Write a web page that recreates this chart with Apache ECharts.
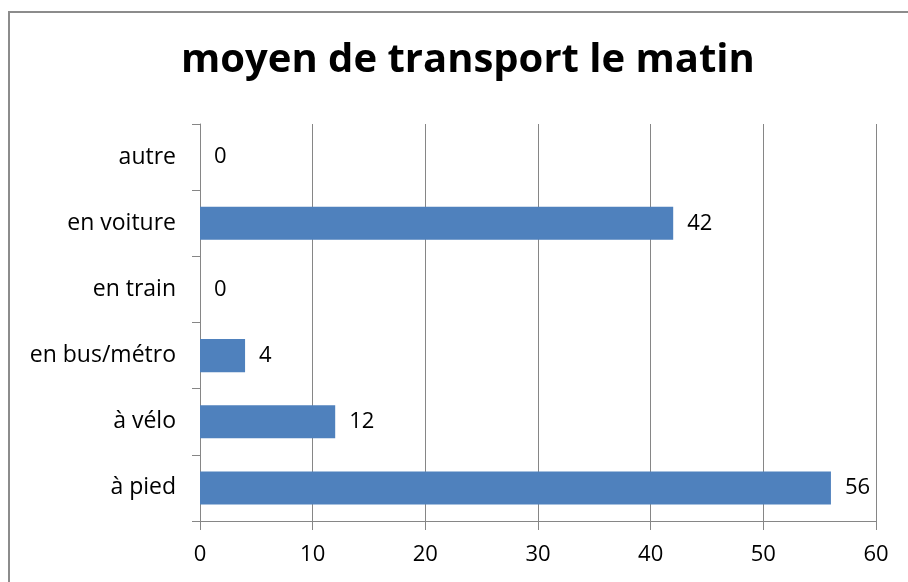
<!DOCTYPE html>
<html>
<head>
<meta charset="utf-8">
<script src="https://cdn.jsdelivr.net/npm/echarts@6/dist/echarts.min.js"></script>
<style>
  html, body { margin: 0; padding: 0; background: #fff; }
  #main { width: 908px; height: 582px; }
</style>
</head>
<body>
<div id="main"></div>
<script>
// données (de bas en haut)
var categories = ["à pied", "à vélo", "en bus/métro", "en train", "en voiture", "autre"];
var values = [56, 12, 4, 0, 42, 0];
var xTicks = [0, 10, 20, 30, 40, 50, 60];

var chart = echarts.init(document.getElementById("main"));
var gray = "#868686";
var font = "'Open Sans', sans-serif";

chart.setOption({
  backgroundColor: "#fff",
  animation: false,
  title: {
    text: "moyen de transport le matin",
    left: 176,
    top: 36,
    textStyle: { fontFamily: font, fontWeight: "bold", fontSize: 40, color: "#000" }
  },
  // cadre du graphique
  graphic: [{
    type: "rect",
    shape: { x: 9, y: 12, width: 920, height: 600 },
    style: { fill: null, stroke: "#8c8c8c", lineWidth: 2 },
    silent: true
  }],
  grid: { left: 200, right: 32, top: 124, bottom: 61 },
  xAxis: {
    type: "value",
    min: xTicks[0],
    max: xTicks[xTicks.length - 1],
    interval: 10,
    axisLine: { show: true, lineStyle: { color: gray, width: 1 } },
    axisTick: { show: true, length: 9, lineStyle: { color: gray } },
    splitLine: { show: true, lineStyle: { color: gray, width: 1 } },
    axisLabel: { margin: 23, fontFamily: font, fontSize: 22, color: "#000" }
  },
  yAxis: {
    type: "category",
    data: categories,
    axisLine: { show: true, lineStyle: { color: gray, width: 1 } },
    axisTick: { show: true, length: 8, alignWithLabel: false, lineStyle: { color: gray } },
    axisLabel: { margin: 24, fontFamily: font, fontSize: 23, color: "#000" }
  },
  series: [{
    type: "bar",
    data: values,
    barWidth: "50%",
    itemStyle: { color: "#4F81BD" },
    label: {
      show: true,
      position: "right",
      distance: 14,
      fontFamily: font,
      fontSize: 22,
      color: "#000"
    }
  }]
});
</script>
</body>
</html>
